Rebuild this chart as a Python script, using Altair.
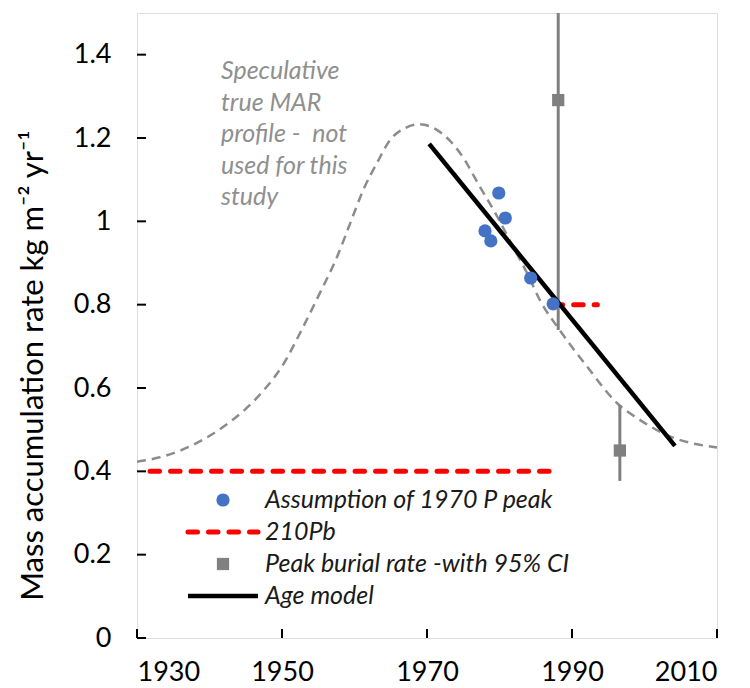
import altair as alt
import pandas as pd

# ---------------- data ----------------
x_ticks = [1930, 1950, 1970, 1990, 2010]
y_ticks = [0, 0.2, 0.4, 0.6, 0.8, 1.0, 1.2, 1.4]

# speculative true MAR profile (grey dashed)
curve_year = [1930, 1933, 1936, 1939, 1942, 1945, 1947.5, 1950, 1952.9, 1955.2, 1957.6,
              1959.4, 1961.2, 1963.1, 1964.9, 1967, 1969, 1971.4, 1974.6, 1977.3,
              1979.7, 1981.9, 1983.8, 1985.6, 1988.3, 1992.1, 1996.2, 1999.4, 2003.1, 2010]
curve_mar = [0.423, 0.433, 0.450, 0.475, 0.508, 0.550, 0.595, 0.652, 0.746, 0.827, 0.915,
             0.995, 1.075, 1.14, 1.195, 1.224, 1.233, 1.219, 1.163, 1.083,
             1.011, 0.938, 0.876, 0.81, 0.739, 0.651, 0.564, 0.523, 0.487, 0.457]

# assumption of 1970 P peak (blue points)
pt_year = [1979.9, 1980.8, 1978.0, 1978.8, 1984.3, 1987.4]
pt_mar = [1.068, 1.008, 0.977, 0.953, 0.864, 0.802]

# 210Pb (red dashed segments)
pb_start = [1931.8, 1987.4]
pb_end = [1987.4, 1993.5]
pb_mar = [0.40, 0.80]

# peak burial rate with 95% CI (grey squares)
burial_year = [1988.1, 1996.6]
burial_mar = [1.291, 0.450]
burial_lo = [0.739, 0.377]
burial_hi = [1.85, 0.559]

# age model (black line)
age_year = [1970.3, 2004.2]
age_mar = [1.186, 0.461]

annotation_lines = ["Speculative", "true MAR", "profile - \u00a0not", "used for this", "study"]
legend_labels = ["Assumption of 1970 P peak", "210Pb", "Peak burial rate -with 95% CI", "Age model"]
y_title = "Mass accumulation rate kg m\u207b\u00b2 yr\u207b\u00b9"

# ---------------- style ----------------
FONT = "Lato"
W, H = 580, 625
BLUE = "#4472C4"
RED = "#FF0000"
GREY = "#808080"
CURVE_GREY = "#8C8C8C"
TEXT_GREY = "#8F8F8F"

x_scale = alt.Scale(domain=[1930, 2010], nice=False, zero=False)
y_scale = alt.Scale(domain=[0, 1.5], nice=False)

x_axis = alt.Axis(values=x_ticks, format="d", title=None, grid=False, ticks=False,
                  domain=False, labelFontSize=27, labelPadding=21, labelColor="#000",
                  labelFont=FONT)
y_axis = alt.Axis(values=y_ticks, format="~g", title=y_title, grid=False, ticks=False,
                  domain=False, labelFontSize=27, labelPadding=26, labelColor="#000",
                  labelFont=FONT, titleFont=FONT, titleFontSize=31, titleFontWeight="normal",
                  titleColor="#000", titleX=-104, titleY=352, titleAngle=270,
                  titleAlign="center", titleBaseline="middle")


def X(field):
    return alt.X(field, type="quantitative", scale=x_scale, axis=x_axis)


def Y(field):
    return alt.Y(field, type="quantitative", scale=y_scale, axis=y_axis)


curve_df = pd.DataFrame({"year": curve_year, "mar": curve_mar})
pt_df = pd.DataFrame({"year": pt_year, "mar": pt_mar})
pb_df = pd.DataFrame({"x0": pb_start, "x1": pb_end, "mar": pb_mar})
bur_df = pd.DataFrame({"year": burial_year, "mar": burial_mar, "lo": burial_lo, "hi": burial_hi})
age_df = pd.DataFrame({"year": age_year, "mar": age_mar})
yt_df = pd.DataFrame({"v": y_ticks})
xt_df = pd.DataFrame({"v": x_ticks})

curve = alt.Chart(curve_df).mark_line(
    color=CURVE_GREY, strokeWidth=2.5, strokeDash=[9, 6], interpolate="monotone"
).encode(x=X("year"), y=Y("mar"))

pb = alt.Chart(pb_df).mark_rule(
    color=RED, strokeWidth=5, strokeDash=[9.5, 11], strokeCap="round"
).encode(x=X("x0"), x2="x1", y=Y("mar"))

err = alt.Chart(bur_df).mark_rule(color=GREY, strokeWidth=3, clip=True).encode(
    x=X("year"), y=Y("lo"), y2="hi")

age = alt.Chart(age_df).mark_line(color="#000", strokeWidth=4.5).encode(
    x=X("year"), y=Y("mar"))

pts = alt.Chart(pt_df).mark_point(
    shape="circle", filled=True, size=175, color=BLUE, opacity=1
).encode(x=X("year"), y=Y("mar"))

sq = alt.Chart(bur_df).mark_point(
    shape="square", filled=True, size=150, color=GREY, opacity=1
).encode(x=X("year"), y=Y("mar"))

ytick = alt.Chart(yt_df).mark_rule(color="#000", strokeWidth=2).encode(
    y=Y("v"), x=alt.value(0), x2=alt.value(9))
xtick = alt.Chart(xt_df).mark_rule(color="#000", strokeWidth=2).encode(
    x=X("v"), y=alt.value(H), y2=alt.value(H - 9))

annot = alt.Chart(pd.DataFrame({"t": ["\n".join(annotation_lines)]})).mark_text(
    font=FONT, fontSize=25, fontStyle="italic", color=TEXT_GREY, align="left",
    baseline="top", lineBreak="\n", lineHeight=31.5
).encode(x=alt.value(84), y=alt.value(46), text="t:N")

# manual legend
LEG_SYM_X = 86
LEG_LINE_X0, LEG_LINE_X1 = 51, 121
LEG_TEXT_X = 128
LEG_Y0, LEG_DY = 487, 32

legend_layers = []
for i, lab in enumerate(legend_labels):
    yy = LEG_Y0 + i * LEG_DY
    legend_layers.append(
        alt.Chart(pd.DataFrame({"t": [lab]})).mark_text(
            font=FONT, fontSize=25, fontStyle="italic", color="#1a1a1a",
            align="left", baseline="middle"
        ).encode(x=alt.value(LEG_TEXT_X), y=alt.value(yy), text="t:N")
    )
one = pd.DataFrame({"k": [0]})
legend_layers.append(alt.Chart(one).mark_point(
    shape="circle", filled=True, size=175, color=BLUE, opacity=1
).encode(x=alt.value(LEG_SYM_X), y=alt.value(LEG_Y0)))
legend_layers.append(alt.Chart(one).mark_rule(
    color=RED, strokeWidth=5, strokeDash=[9.5, 11], strokeCap="round"
).encode(x=alt.value(LEG_LINE_X0), x2=alt.value(LEG_LINE_X1), y=alt.value(LEG_Y0 + LEG_DY)))
legend_layers.append(alt.Chart(one).mark_point(
    shape="square", filled=True, size=150, color=GREY, opacity=1
).encode(x=alt.value(LEG_SYM_X), y=alt.value(LEG_Y0 + 2 * LEG_DY)))
legend_layers.append(alt.Chart(one).mark_rule(color="#000", strokeWidth=4.5).encode(
    x=alt.value(LEG_LINE_X0), x2=alt.value(LEG_LINE_X1), y=alt.value(LEG_Y0 + 3 * LEG_DY)))

chart = alt.layer(
    curve, pb, err, age, pts, sq, ytick, xtick, annot, *legend_layers
).properties(
    width=W, height=H,
    autosize=alt.AutoSizeParams(type="none"),
    padding={"left": 129, "top": 5, "right": 25, "bottom": 50},
).configure_view(
    stroke="#000", strokeWidth=2
).configure(font=FONT, background="white")

chart.save("out.html", embed_options={"renderer": "svg", "actions": False})
